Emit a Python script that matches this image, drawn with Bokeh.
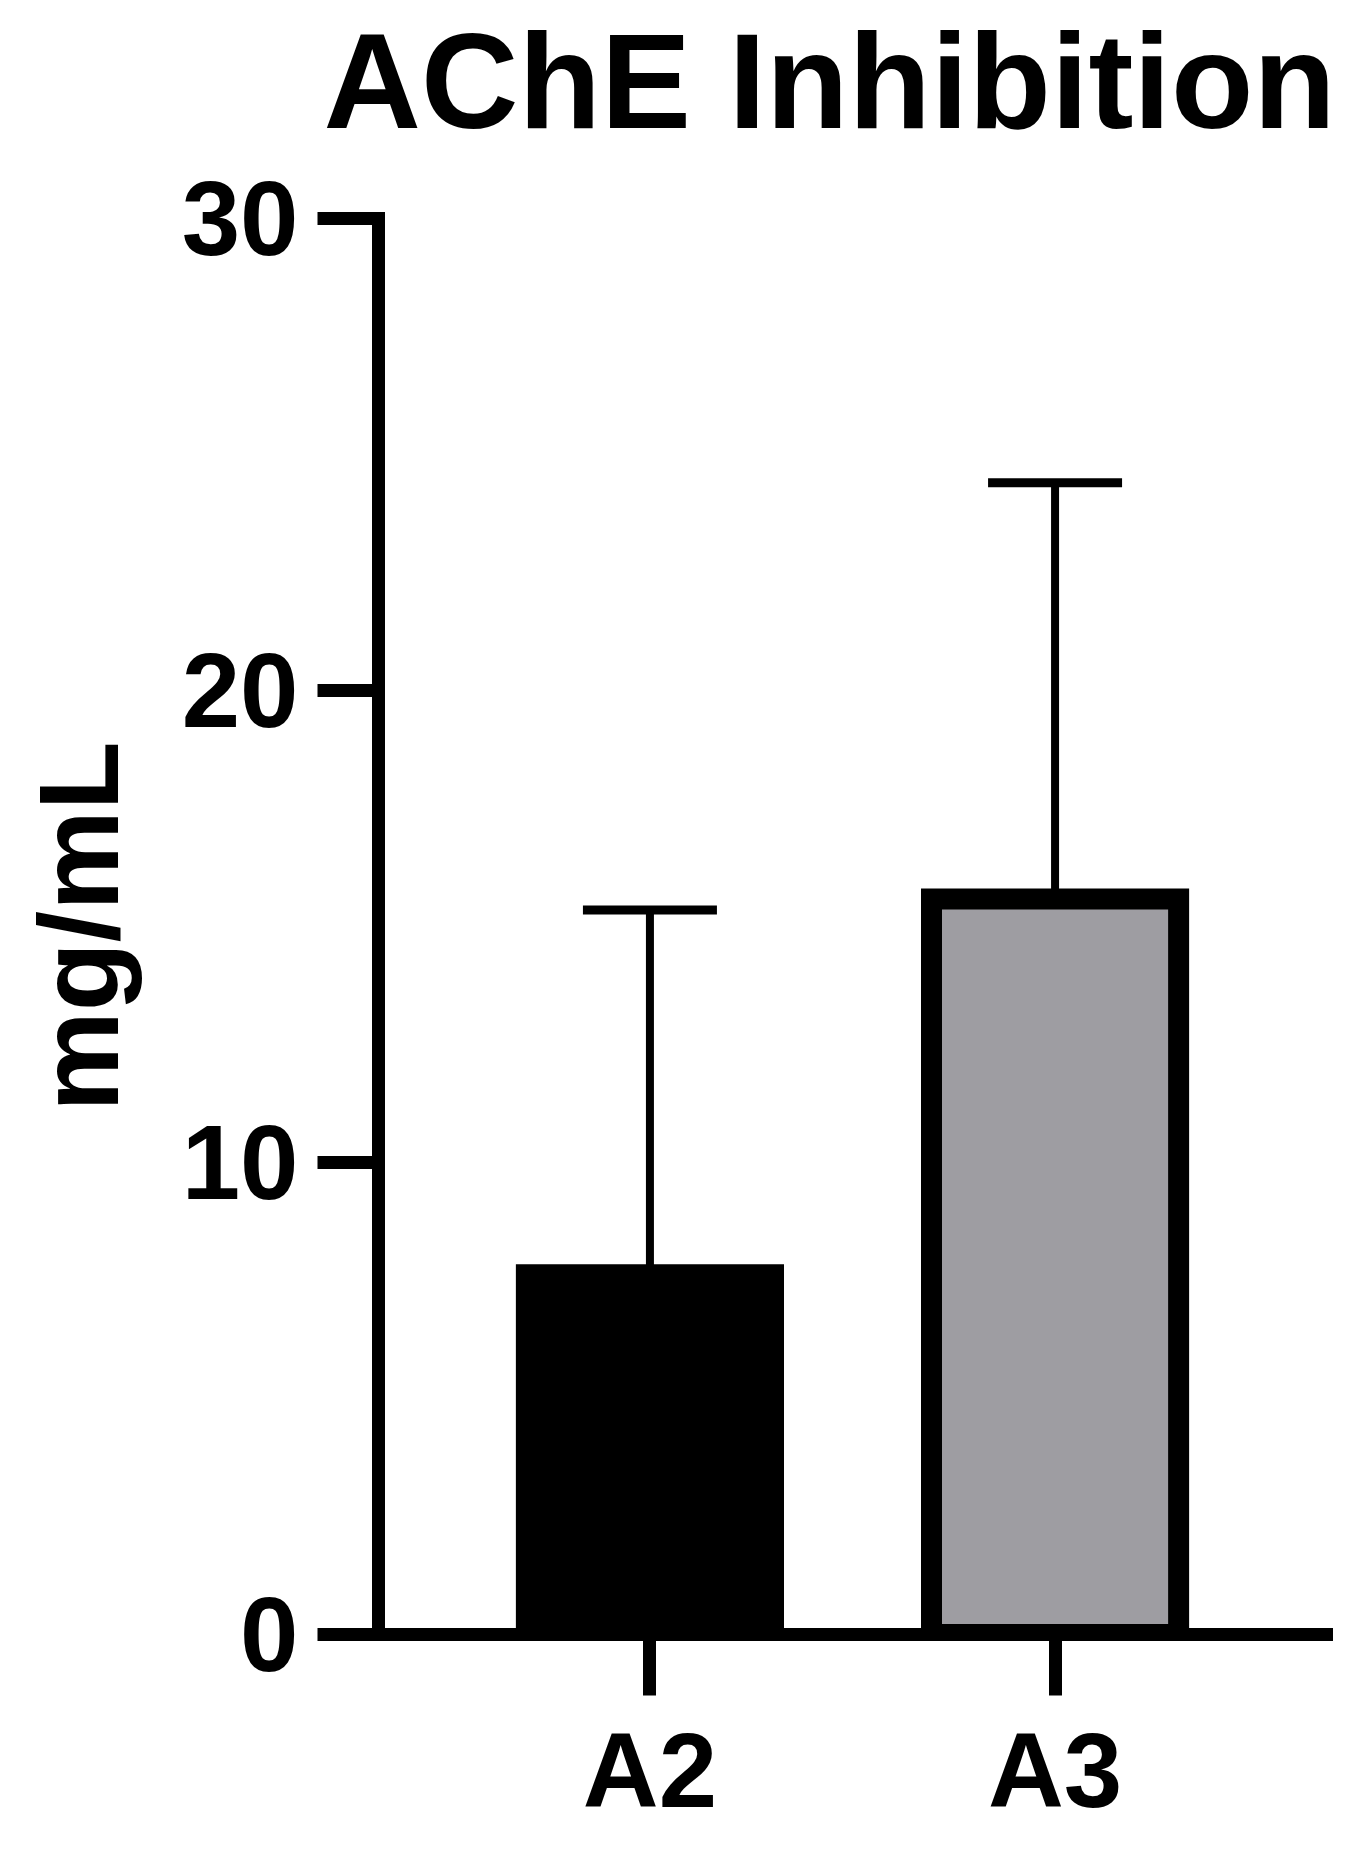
from bokeh.plotting import figure
from bokeh.models import FactorRange, Range1d, FixedTicker, Whisker, TeeHead, ColumnDataSource, Title
from bokeh.embed import file_html
from bokeh.resources import INLINE

categories = ["A2", "A3"]
means = [7.62, 15.58]
sd = [7.73, 8.82]
bar_colors = ["#000000", "#9e9da2"]
y_ticks = [0, 10, 20, 30]
title_text = "AChE Inhibition"
y_label = "mg/mL"

upper = [m + s for m, s in zip(means, sd)]
src = ColumnDataSource(dict(cat=categories, mean=means, upper=upper, color=bar_colors))

FONT = "Liberation Sans"

p = figure(
    x_range=FactorRange(*categories, range_padding=0.17, range_padding_units="absolute"),
    y_range=Range1d(0, 30),
    width=1345, height=1834,
    output_backend="svg", toolbar_location=None,
    min_border_left=378, min_border_right=19, min_border_top=218, min_border_bottom=200,
    title=None,
)

p.vbar(x="cat", top="mean", bottom=0, width=0.61, source=src,
       fill_color="color", line_color="black", line_width=21, line_join="miter")

wh = Whisker(base="cat", lower="mean", upper="upper", source=src,
             line_width=8, line_color="black",
             upper_head=TeeHead(size=134, line_width=9, line_color="black"),
             lower_head=None)
p.add_layout(wh)

# spacer between frame and title (nearest the frame)
spacer = Title(text=" ", text_font_size="1px", standoff=57)
p.add_layout(spacer, "above")

title = Title(text=title_text, text_font=FONT, text_font_size="135px",
              text_font_style="bold", text_color="black",
              align="left", offset=-55, vertical_align="top", standoff=0)
p.add_layout(title, "above")

for ax in (p.xaxis[0], p.yaxis[0]):
    ax.axis_line_width = 13
    ax.axis_line_color = "black"
    ax.axis_line_cap = "square"
    ax.major_tick_line_width = 13
    ax.major_tick_line_color = "black"
    ax.major_tick_in = 0
    ax.major_tick_out = 61
    ax.minor_tick_line_color = None
    ax.major_label_text_font = FONT
    ax.major_label_text_font_size = "105px"
    ax.major_label_text_font_style = "bold"
    ax.major_label_text_color = "black"

p.yaxis.ticker = FixedTicker(ticks=y_ticks)
p.yaxis.major_label_standoff = 19
p.xaxis.major_label_standoff = 16
p.yaxis.axis_label = y_label
p.yaxis.axis_label_text_font = FONT
p.yaxis.axis_label_text_font_size = "113px"
p.yaxis.axis_label_text_font_style = "bold"
p.yaxis.axis_label_text_color = "black"
p.yaxis.axis_label_standoff = 37

p.xgrid.visible = False
p.ygrid.visible = False
p.outline_line_color = None
p.background_fill_color = "white"
p.border_fill_color = "white"

open("out.html", "w").write(file_html(p, INLINE))
